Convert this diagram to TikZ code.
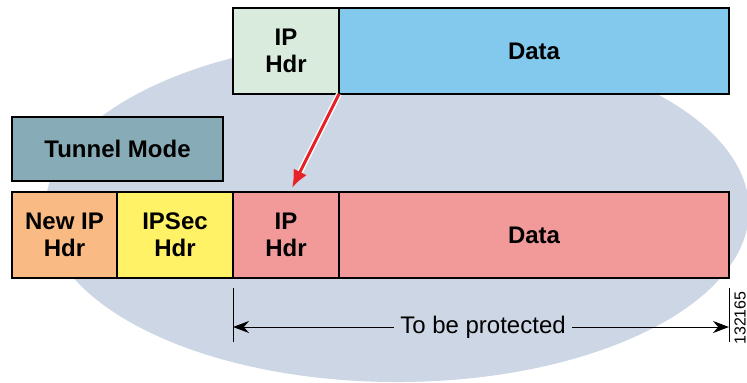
\documentclass[tikz,border=0pt]{standalone}
\usepackage{fontspec}
\setmainfont{Liberation Sans}
\usetikzlibrary{positioning,arrows.meta}
\definecolor{hdrgreen}{HTML}{D9EBDD}
\definecolor{datablue}{HTML}{83C9ED}
\definecolor{modeteal}{HTML}{87ACB8}
\definecolor{neworange}{HTML}{F9BB83}
\definecolor{secyellow}{HTML}{FFF266}
\definecolor{protpink}{HTML}{F29A99}
\definecolor{cloudgray}{HTML}{CDD6E4}
\definecolor{movered}{HTML}{E52329}
\begin{document}
\begin{tikzpicture}
            [x=0.5pt,y=-0.5pt,line width=0.6pt,
             every node/.style={font=\fontsize{12}{13.5}\selectfont\bfseries,align=center},
             box/.style={draw,rectangle,inner sep=0pt,outer sep=0pt,minimum height=43pt},
             dimarrow/.style={-{Stealth[length=8pt,width=6pt]},line width=0.5pt}]
            \useasboundingbox (0,0) rectangle (747,382);
            \fill [cloudgray] (397,210) ellipse [x radius=352, y radius=172];
            % original packet
            \node [box,fill=hdrgreen,minimum width=53pt,anchor=north west] (iphdr) at (233,8) {IP\\Hdr};
            \node [box,fill=datablue,minimum width=195pt,right=0pt of iphdr] (data) {Data};
            \node [box,fill=modeteal,minimum width=105.5pt,minimum height=32pt,anchor=north west] (tunnel) at (12,117) {Tunnel Mode};
            % tunnelled packet
            \node [box,fill=neworange,minimum width=52.5pt,anchor=north west] (newip) at (12,192) {New IP\\Hdr};
            \node [box,fill=secyellow,minimum width=58pt,right=0pt of newip] (ipsec) {IPSec\\Hdr};
            \node [box,fill=protpink,minimum width=53pt,right=0pt of ipsec] (iphdr2) {IP\\Hdr};
            \node [box,fill=protpink,minimum width=195pt,right=0pt of iphdr2] (data2) {Data};
            \foreach \c/\w in {white/3pt,movered/1.5pt}
                \draw [\c,line width=\w,-{Latex[length=9pt,width=7.5pt]}] (iphdr.south east) -- ([shift={(6,-4)}]iphdr2.north);
            % protected span
            \coordinate (pl) at (233,327);
            \coordinate (pr) at (729,327);
            \node [font=\fontsize{12}{13.5}\selectfont,inner sep=3pt] (prot) at (483,327) {To be protected};
            \draw [line width=0.5pt] ([shift={(0,-39)}]pl) -- ([shift={(0,15)}]pl);
            \draw [line width=0.5pt] ([shift={(0,-39)}]pr) -- ([shift={(0,15)}]pr);
            \draw [dimarrow] (prot) -- (pl);
            \draw [dimarrow] (prot) -- (pr);
            \node [font=\fontsize{8}{8}\selectfont,rotate=90,inner sep=1pt] (figid) at (740,318) {132165};
        \end{tikzpicture}
\end{document}
